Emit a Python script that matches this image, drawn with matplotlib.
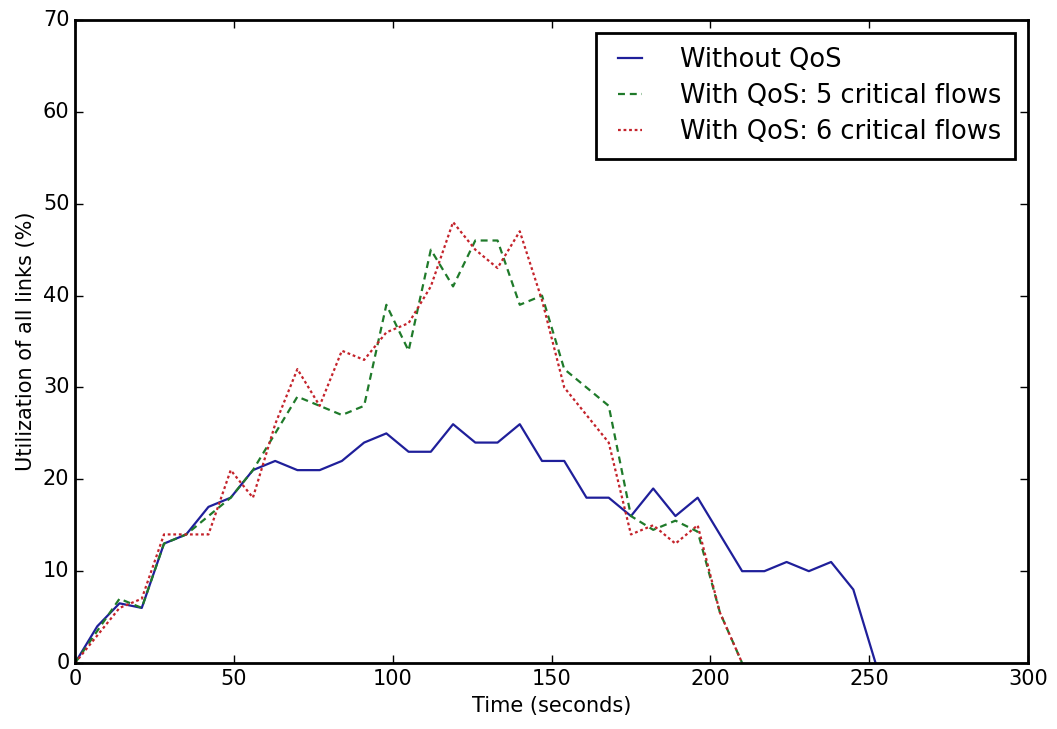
import matplotlib
matplotlib.use("Agg")
import matplotlib.pyplot as plt

# time samples (seconds)
time_s = [0, 7, 14, 21, 28, 35, 42, 49, 56, 63, 70, 77, 84, 91, 98, 105, 112, 119,
          126, 133, 140, 147, 154, 161, 168, 175, 182, 189, 196, 203, 210, 217, 224,
          231, 238, 245, 252]

# utilization (%) without QoS
no_qos = [0, 4, 6.5, 6, 13, 14, 17, 18, 21, 22, 21, 21, 22, 24, 25, 23, 23, 26,
          24, 24, 26, 22, 22, 18, 18, 16, 19, 16, 18, 14, 10, 10, 11,
          10, 11, 8, 0]

# with QoS, 5 and 6 critical flows (end at 210 s)
qos_5 = [0, 3.5, 7, 6, 13, 14, 16, 18, 21, 25, 29, 28, 27, 28, 39, 34, 45, 41,
         46, 46, 39, 40, 32, 30, 28, 16, 14.5, 15.5, 14.3, 5.5, 0]
qos_6 = [0, 3, 6, 7, 14, 14, 14, 21, 18, 26, 32, 28, 34, 33, 36, 37, 41, 48,
         45, 43, 47, 39.5, 30, 27, 24, 14, 15, 13, 15, 5.5, 0]

labels = ["Without QoS", "With QoS: 5 critical flows", "With QoS: 6 critical flows"]


def main():
    plt.style.use("classic")
    fig = plt.figure(figsize=(10.57, 7.29), dpi=100, facecolor="white")
    ax = fig.add_axes([0.071, 0.0905, 0.9016, 0.882])

    ax.plot(time_s, no_qos, color="#1f1f9a", lw=1.6, label=labels[0])
    ax.plot(time_s[:len(qos_5)], qos_5, color="#1f7a2a", lw=1.6,
            linestyle=(0, (5, 3.5)), label=labels[1])
    ax.plot(time_s[:len(qos_6)], qos_6, color="#c4232b", lw=1.6,
            linestyle=(0, (2, 2)), label=labels[2])

    ax.set_xlim(0, 300)
    ax.set_ylim(0, 70)
    ax.set_xlabel("Time (seconds)", fontsize=15)
    ax.set_ylabel("Utilization of all links (%)", fontsize=15)
    ax.tick_params(labelsize=15, length=6, width=1, pad=4)
    for sp in ax.spines.values():
        sp.set_linewidth(2)

    leg = ax.legend(loc="upper right", fontsize=18.5, fancybox=False, numpoints=2,
                    labelspacing=0.38, handlelength=1.55, handletextpad=1.15,
                    borderpad=0.55, borderaxespad=0.5)
    leg.get_frame().set_linewidth(2)
    leg.get_frame().set_edgecolor("black")

    fig.savefig("out.png", dpi=100, facecolor="white")


if __name__ == "__main__":
    main()
